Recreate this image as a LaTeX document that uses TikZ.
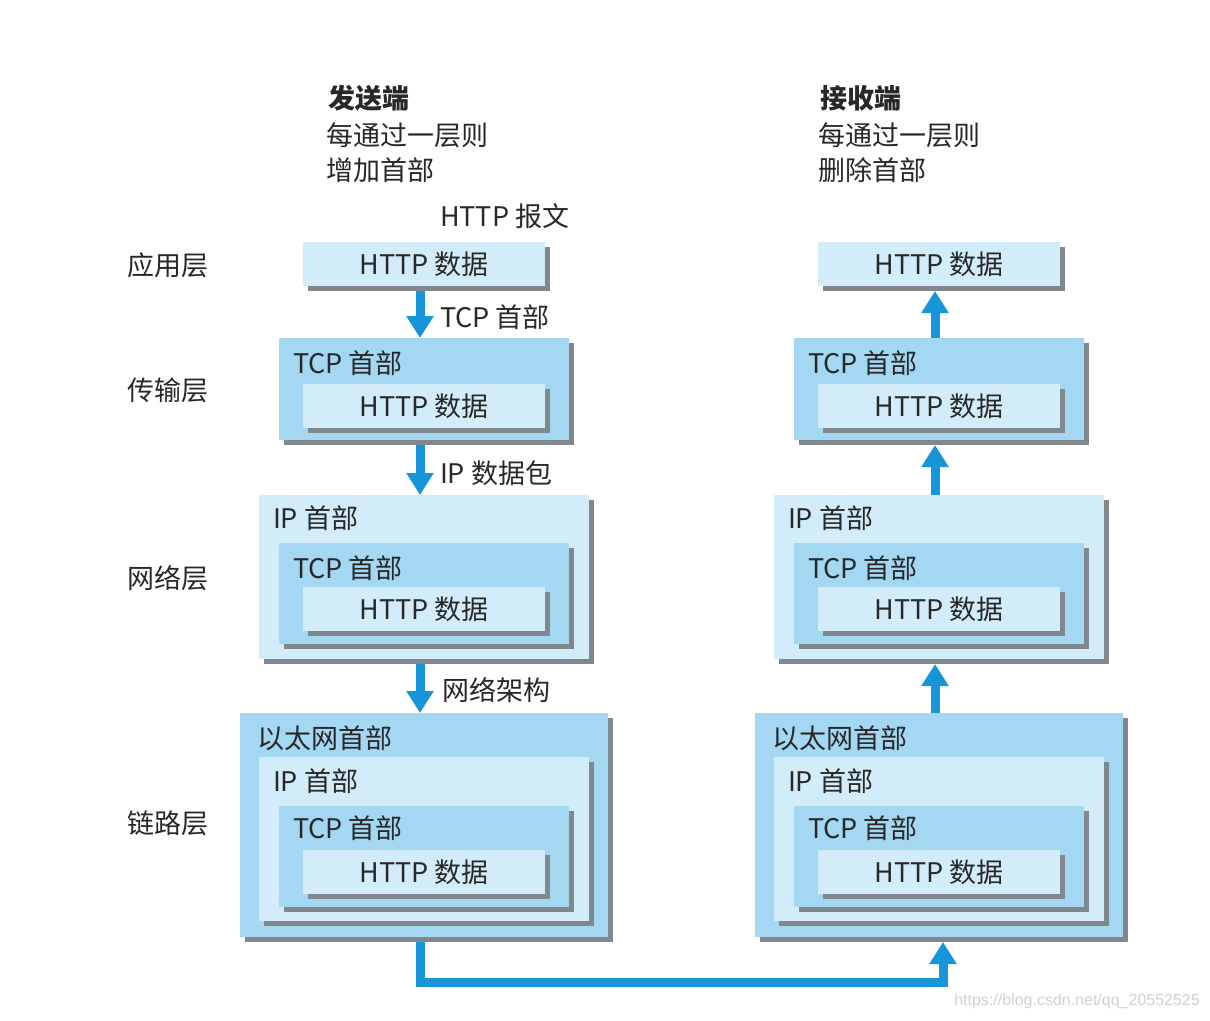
\documentclass[tikz,border=0pt]{standalone}
\usepackage{fontspec}
\setmainfont{Noto Sans CJK SC}
\newfontfamily\wmfont{Liberation Sans}
\usetikzlibrary{arrows.meta,shadows}
\definecolor{pktlight}{RGB}{211,236,249}
\definecolor{pktmid}{RGB}{163,215,242}
\definecolor{pktshadow}{RGB}{128,136,142}
\definecolor{pktblue}{RGB}{22,150,216}
\definecolor{pkttext}{RGB}{40,40,40}
\begin{document}
\begin{tikzpicture}[x=1pt,y=-1pt,
  pkt/.style={rectangle, inner sep=0pt, outer sep=0pt, anchor=north west, draw=none,
    drop shadow={shadow xshift=5pt, shadow yshift=-5pt, fill=pktshadow, opacity=1}},
  lightbox/.style={pkt, fill=pktlight},
  midbox/.style={pkt, fill=pktmid},
  txt/.style={inner sep=0pt, outer sep=0pt, anchor=west, font=\fontsize{27}{31}\selectfont, text=pkttext},
  ctxt/.style={txt, anchor=center},
  flow/.style={draw=pktblue, line width=9pt, -{Triangle[width=26pt,length=22pt]}},
]
\fill[white] (0,0) rectangle (1210,1020);
\useasboundingbox (0,0) rectangle (1210,1020);

% titles
\node[txt, font=\fontsize{27}{31}\selectfont\bfseries] (sendT) at (328,98) {发送端};
\node[txt] (sendA) at (326,135) {每通过一层则};
\node[txt] (sendB) at (326,170) {增加首部};
\node[txt, font=\fontsize{27}{31}\selectfont\bfseries] (recvT) at (820,98) {接收端};
\node[txt] (recvA) at (818,135) {每通过一层则};
\node[txt] (recvB) at (818,170) {删除首部};

% layer labels
\node[txt] (layA) at (127,265) {应用层};
\node[txt] (layT) at (127,390) {传输层};
\node[txt] (layN) at (127,578) {网络层};
\node[txt] (layL) at (127,823) {链路层};

\foreach \c/\dx in {L/0, R/515} {
  \begin{scope}[xshift=\dx pt]
    % application
    \node[lightbox, minimum width=242pt, minimum height=44pt] (a\c) at (303,242) {};
    \node[ctxt] (a\c x) at (a\c.center) {HTTP 数据};
    % transport
    \node[midbox, minimum width=290pt, minimum height=102pt] (t\c) at (279,338) {};
    \node[txt] (t\c x) at (293,363) {TCP 首部};
    \node[lightbox, minimum width=242pt, minimum height=44pt] (t\c h) at (303,384) {};
    \node[ctxt] (t\c hx) at (t\c h.center) {HTTP 数据};
    % network
    \node[lightbox, minimum width=330pt, minimum height=164pt] (n\c) at (259,495) {};
    \node[txt] (n\c x) at (273,518) {IP 首部};
    \node[midbox, minimum width=290pt, minimum height=101pt] (n\c t) at (279,543) {};
    \node[txt] (n\c tx) at (293,568) {TCP 首部};
    \node[lightbox, minimum width=242pt, minimum height=44pt] (n\c h) at (303,587) {};
    \node[ctxt] (n\c hx) at (n\c h.center) {HTTP 数据};
    % link
    \node[midbox, minimum width=368pt, minimum height=224pt] (l\c) at (240,713) {};
    \node[txt] (l\c x) at (257,738) {以太网首部};
    \node[lightbox, minimum width=330pt, minimum height=164pt] (l\c i) at (259,757) {};
    \node[txt] (l\c ix) at (273,781) {IP 首部};
    \node[midbox, minimum width=290pt, minimum height=101pt] (l\c t) at (279,806) {};
    \node[txt] (l\c tx) at (293,828) {TCP 首部};
    \node[lightbox, minimum width=242pt, minimum height=44pt] (l\c h) at (303,850) {};
    \node[ctxt] (l\c hx) at (l\c h.center) {HTTP 数据};
  \end{scope}
}

% arrow labels (sender)
\node[txt] (lbMsg) at (440,216) {HTTP 报文};
\node[txt] (lbTcp) at (440,317) {TCP 首部};
\node[txt] (lbIp) at (440,473) {IP 数据包};
\node[txt] (lbNet) at (442,690) {网络架构};

% sender arrows (down)
\draw[flow] ([xshift=-4pt,yshift=-5pt]aL.south) -- ([xshift=-4pt]tL.north);
\draw[flow] ([xshift=-4pt,yshift=-5pt]tL.south) -- ([xshift=-4pt]nL.north);
\draw[flow] ([xshift=-4pt,yshift=-5pt]nL.south) -- ([xshift=-4pt]lL.north);

% receiver arrows (up)
\draw[flow] ([xshift=-4pt]tR.north) -- ([xshift=-4pt,yshift=-5pt]aR.south);
\draw[flow] ([xshift=-4pt]nR.north) -- ([xshift=-4pt,yshift=-5pt]tR.south);
\draw[flow] ([xshift=-4pt]lR.north) -- ([xshift=-4pt,yshift=-5pt]nR.south);

% physical link
\draw[flow] ([xshift=-4pt,yshift=-5pt]lL.south) -- ++(0,40) -| ([xshift=4pt,yshift=-5pt]lR.south);

% watermark
\node[inner sep=0pt, anchor=east, font=\wmfont\fontsize{16}{18}\selectfont, text=black!18] (wm) at (1200,1001) {https://blog.csdn.net/qq\_20552525};
\end{tikzpicture}
\end{document}
